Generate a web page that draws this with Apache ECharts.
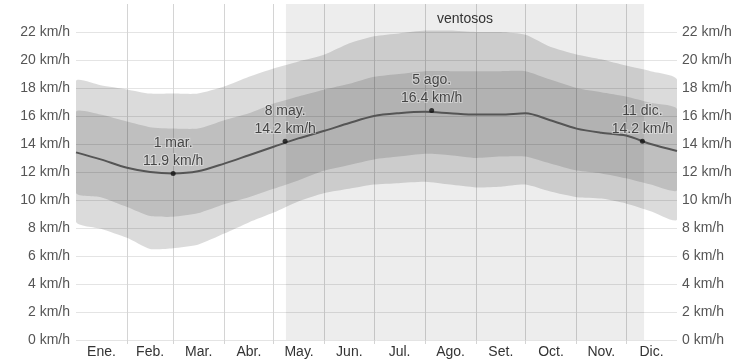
<!DOCTYPE html>
<html><head><meta charset="utf-8">
<script src="https://cdn.jsdelivr.net/npm/echarts@6/dist/echarts.min.js"></script>
<style>html,body{margin:0;padding:0;background:#fff}#c{width:753px;height:362px}</style>
</head><body><div id="c"></div>
<script>
// day-of-year sample points
const days = [0,15,31,45,59,74,90,105,120,135,151,166,181,196,212,227,243,258,273,288,304,319,334,349,365];
const p90  = [18.5,18.2,17.9,17.6,17.6,17.6,18.1,18.8,19.4,19.9,20.4,21.2,21.7,21.9,22.1,22.1,22.0,22.0,21.8,20.95,20.4,20.05,19.6,19.2,18.6];
const p75  = [16.3,16.1,15.6,15.2,15.1,15.1,15.7,16.2,16.9,17.4,17.9,18.3,18.8,19.0,19.2,19.2,19.2,19.2,19.2,18.6,18.0,17.7,17.4,16.95,16.5];
const mean = [13.4,12.9,12.3,12.0,11.9,12.05,12.6,13.2,13.8,14.4,14.95,15.5,16.0,16.2,16.3,16.2,16.1,16.1,16.2,15.7,15.1,14.8,14.6,14.0,13.5];
const p25  = [10.5,10.2,9.5,8.85,8.8,9.05,9.7,10.2,10.8,11.4,12.1,12.5,12.9,13.1,13.3,13.2,13.0,13.1,13.1,12.6,12.1,11.9,11.55,11.1,10.7];
const p10  = [8.45,7.95,7.3,6.5,6.55,6.8,7.6,8.4,9.1,9.9,10.5,10.8,11.1,11.2,11.3,11.1,10.9,10.95,11.1,10.6,10.2,10.1,9.75,9.2,8.6];

const monthNames = ['Ene.','Feb.','Mar.','Abr.','May.','Jun.','Jul.','Ago.','Set.','Oct.','Nov.','Dic.'];
const monthStarts = [0,31,59,90,120,151,181,212,243,273,304,334,365];
const yTicks = [0,2,4,6,8,10,12,14,16,18,20,22];

const windyStart = 127.5, windyEnd = 345;
const windyLabel = 'ventosos';

const annDays = [59,127,216,344];
const annVals = [11.9,14.2,16.4,14.2];
const annDates = ['1 mar.','8 may.','5 ago.','11 dic.'];

const FONT = '"Liberation Sans", Arial, sans-serif';
const pairs = arr => days.map((d,i)=>[d, arr[i]]);
const midpoints = monthNames.map((m,i)=>(monthStarts[i]+monthStarts[i+1])/2);
const midName = {}; midpoints.forEach((v,i)=>midName[v]=monthNames[i]);

const chart = echarts.init(document.getElementById('c'), null, {renderer:'canvas'});
const yLabel = v => (v > 22 ? '' : v + ' km/h');
const splitColors = yTicks.map(()=> '#e4e4e4').concat(['rgba(0,0,0,0)']);

function bandSeries(lo, hi, color){
  return {
    type:'custom', silent:true, z:1, clip:true,
    data: days.map((d,i)=>[d, lo[i], hi[i]]),
    encode:{x:0, y:[1,2]},
    renderItem:(params, api)=>{
      if (params.dataIndex !== 0) return null;
      const cs = params.coordSys;
      const top = [], bot = [];
      for (let i=0;i<days.length;i++){
        top.push(api.coord([days[i], hi[i]]));
        bot.push(api.coord([days[i], lo[i]]));
      }
      const pts = top.concat(bot.reverse());
      return {type:'polygon', shape:{points:pts, smooth:0.2,
        smoothConstraint:[[cs.x, cs.y - 50],[cs.x + cs.width, cs.y + cs.height + 50]]},
        style:{fill:color, stroke:null}};
    }
  };
}

chart.setOption({
  animation:false,
  textStyle:{fontFamily:FONT},
  grid:{left:76, right:76, top:4, bottom:22},
  xAxis:{
    type:'value', min:0, max:365,
    axisLine:{show:false},
    axisTick:{show:true, length:4, lineStyle:{color:'#d4d4d4'}, customValues:monthStarts.slice(1,-1)},
    splitLine:{show:true, lineStyle:{color:'#d4d4d4', width:1}},
    axisLabel:{customValues:midpoints, formatter:v=>midName[v]||'', color:'#333', fontSize:14, margin:5, fontFamily:FONT}
  },
  yAxis:[
    {type:'value', min:0, max:24, interval:2, position:'left',
     axisLine:{show:false}, axisTick:{show:false},
     splitLine:{lineStyle:{color:splitColors}},
     axisLabel:{formatter:yLabel, color:'#555', fontSize:14, margin:6, fontFamily:FONT}},
    {type:'value', min:0, max:24, interval:2, position:'right',
     axisLine:{show:false}, axisTick:{show:false}, splitLine:{show:false},
     axisLabel:{formatter:yLabel, color:'#555', fontSize:14, margin:5, fontFamily:FONT}}
  ],
  series:[
    {type:'line', data:[], z:0, silent:true,
     markArea:{silent:true, itemStyle:{color:'rgba(0,0,0,0.07)'},
       label:{show:true, position:'insideTop', distance:8, color:'#333', fontSize:14, fontFamily:FONT},
       data:[[{name:windyLabel, xAxis:windyStart, yAxis:0},{xAxis:windyEnd, yAxis:24}]]}},
    bandSeries(p10, p90, 'rgba(0,0,0,0.14)'),
    bandSeries(p25, p75, 'rgba(0,0,0,0.13)'),
    {type:'line', name:'mean', data:pairs(mean), symbol:'none', smooth:0.3, z:3,
     lineStyle:{color:'#555', width:2}},
    {type:'scatter', name:'ann', z:4, symbolSize:5, itemStyle:{color:'#111'},
     data:annDays.map((d,i)=>[d, annVals[i]]),
     label:{show:true, position:'top', distance:1, color:'#222', fontSize:14, lineHeight:18,
       fontFamily:FONT, textBorderColor:'rgba(255,255,255,0.45)', textBorderWidth:2,
       formatter:p=>annDates[p.dataIndex]+'\n'+annVals[p.dataIndex].toFixed(1)+' km/h'}}
  ]
});
</script></body></html>
